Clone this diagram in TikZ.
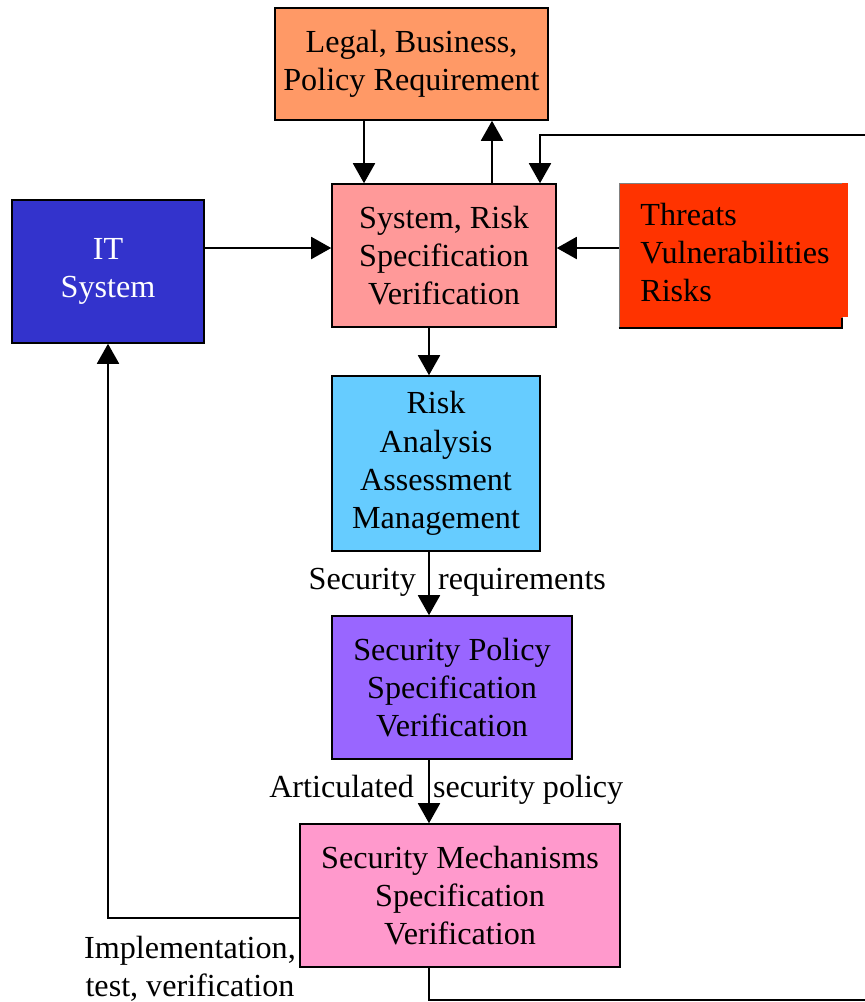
\documentclass[tikz,border=0pt]{standalone}
\usepackage{fontspec}
\setmainfont{Liberation Serif}
\usepackage{xcolor}
\usetikzlibrary{arrows.meta, positioning}

\definecolor{legalc}{HTML}{FF9966}
\definecolor{sysc}{HTML}{FF9999}
\definecolor{itc}{HTML}{3333CC}
\definecolor{thrc}{HTML}{FF3300}
\definecolor{riskc}{HTML}{66CCFF}
\definecolor{polc}{HTML}{9966FF}
\definecolor{mechc}{HTML}{FF99CC}

\begin{document}
\begin{tikzpicture}[
      x=0.02cm, y=-0.02cm,
      every node/.style={font=\fontsize{18.3}{21.8}\selectfont},
      box/.style={draw, line width=0.9pt, align=center, inner sep=0pt},
      arr/.style={-{Triangle[length=0.4cm, width=0.44cm]}, line width=1.1pt},
      lbl/.style={inner sep=1pt}
    ]
    \useasboundingbox (0,0) rectangle (865,1002);
    % columns and rows used by the connectors
    \coordinate (colA) at (364,0);
    \coordinate (colB) at (492,0);
    \coordinate (colR) at (540,0);
    \coordinate (colC) at (429,0);
    \coordinate (colL) at (108,0);
    \coordinate (rowH) at (0,248);
    \coordinate (rowI) at (0,918);
    \coordinate (fbBot) at (885,1000);
    \coordinate (fbTop) at (885,135);

    \node[box, fill=legalc, minimum width=5.46cm, minimum height=2.24cm] (legal) at (411.5,64) {Legal, Business,\\Policy Requirement};
    \node[box, fill=sysc, minimum width=4.48cm, minimum height=2.86cm] (sys) at (444,255.5) {System, Risk\\Specification\\Verification};
    \node[box, fill=itc, text=white, minimum width=3.84cm, minimum height=2.86cm] (it) at (108,271.5) {IT\\System};
    % threats box with its odd frame
    \node[fill=thrc, draw=gray, line width=0.5pt, minimum width=4.46cm, minimum height=2.9cm] (thr) at (730.5,255.5) {};
    \fill[thrc] (842,183) rectangle (848,317);
    \draw[line width=1.2pt] (thr.south west) -- (thr.south east) -- ++(0,-10);
    \node[anchor=west, align=left, inner sep=0pt] (thrtxt) at (640,252.5) {Threats\\Vulnerabilities\\Risks};
    \node[box, fill=riskc, minimum width=4.16cm, minimum height=3.5cm] (risk) at (436,463.5) {Risk\\Analysis\\Assessment\\Management};
    \node[box, fill=polc, minimum width=4.8cm, minimum height=2.86cm] (pol) at (452,687.5) {Security Policy\\Specification\\Verification};
    \node[box, fill=mechc, minimum width=6.4cm, minimum height=2.86cm] (mech) at (460,895.5) {Security Mechanisms\\Specification\\Verification};

    \draw[arr] (legal.south -| colA) -- (sys.north -| colA);
    \draw[arr] (sys.north -| colB) -- (legal.south -| colB);
    \draw[arr] (it.east |- rowH) -- (sys.west |- rowH);
    \draw[arr] (thr.west |- rowH) -- (sys.east |- rowH);
    \draw[arr] (sys.south -| colC) -- (risk.north -| colC);
    \draw[arr] (risk.south -| colC) -- (pol.north -| colC);
    \draw[arr] (pol.south -| colC) -- (mech.north -| colC);
    \draw[arr] (mech.west |- rowI) -| (it.south -| colL);
    \draw[arr] (mech.south -| colC) |- (fbBot) -- (fbTop) -| (sys.north -| colR);

    \node[lbl, anchor=base east] (sr1) at (418,589) {Security};
    \node[lbl, anchor=base west] (sr2) at (436,589) {requirements};
    \node[lbl, anchor=base east] (asp1) at (416,797) {Articulated};
    \node[lbl, anchor=base west] (asp2) at (431,797) {security policy};
    \node[lbl, align=center] (impl) at (190,969) {Implementation,\\test, verification};
  \end{tikzpicture}
\end{document}
